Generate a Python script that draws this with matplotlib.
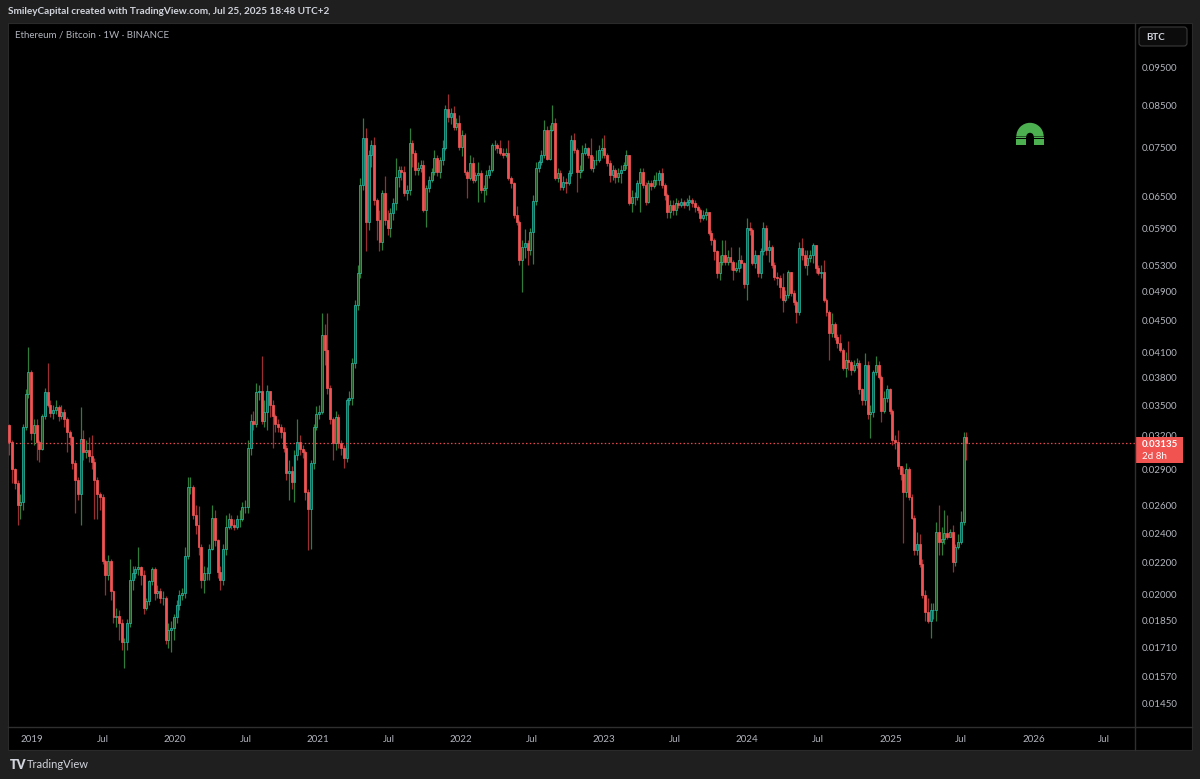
import matplotlib
matplotlib.use('Agg')
import matplotlib.pyplot as plt
from matplotlib.patches import Rectangle, FancyBboxPatch, Wedge
from matplotlib.ticker import NullLocator
import numpy as np
import pandas as pd

plt.rcParams['font.family'] = ['Lato', 'DejaVu Sans']

# weekly ETH/BTC candles, first week starts 2018-11-05
first_week = '2018-11-05'
first_open = 0.0330

closes = [
    0.0314, 0.0290, 0.0278, 0.0261, 0.0263, 0.0328, 0.0362, 0.0386, 0.0323, 0.0330,
    0.0314, 0.0308, 0.0339, 0.0364, 0.0351, 0.0342, 0.0345, 0.0348, 0.0339, 0.0343,
    0.0336, 0.0324, 0.0319, 0.0295, 0.0281, 0.0269, 0.0317, 0.0305, 0.0307, 0.0301,
    0.0296, 0.0281, 0.0269, 0.0267, 0.0221, 0.0212, 0.0221, 0.0202, 0.0187, 0.0188,
    0.0184, 0.0174, 0.0174, 0.0184, 0.0209, 0.0213, 0.0216, 0.0217, 0.0212, 0.0192,
    0.0196, 0.0208, 0.0216, 0.0201, 0.0202, 0.0198, 0.0198, 0.0175, 0.0180, 0.0181,
    0.0187, 0.0194, 0.0200, 0.0201, 0.0224, 0.0275, 0.0275, 0.0253, 0.0246, 0.0230,
    0.0209, 0.0213, 0.0213, 0.0229, 0.0251, 0.0235, 0.0214, 0.0209, 0.0229, 0.0244,
    0.0250, 0.0246, 0.0244, 0.0250, 0.0250, 0.0259, 0.0259, 0.0309, 0.0334, 0.0331,
    0.0364, 0.0365, 0.0334, 0.0343, 0.0365, 0.0351, 0.0339, 0.0331, 0.0328, 0.0324,
    0.0309, 0.0287, 0.0288, 0.0279, 0.0302, 0.0314, 0.0308, 0.0305, 0.0271, 0.0258,
    0.0295, 0.0328, 0.0341, 0.0343, 0.0431, 0.0413, 0.0369, 0.0336, 0.0313, 0.0338,
    0.0313, 0.0309, 0.0300, 0.0356, 0.0358, 0.0397, 0.0471, 0.0518, 0.0672, 0.0772,
    0.0603, 0.0734, 0.0756, 0.0643, 0.0606, 0.0568, 0.0656, 0.0606, 0.0592, 0.0618,
    0.0637, 0.0688, 0.0703, 0.0699, 0.0656, 0.0662, 0.0761, 0.0739, 0.0703, 0.0707,
    0.0713, 0.0624, 0.0666, 0.0682, 0.0699, 0.0728, 0.0699, 0.0724, 0.0750, 0.0841,
    0.0821, 0.0831, 0.0798, 0.0807, 0.0752, 0.0780, 0.0699, 0.0686, 0.0717, 0.0682,
    0.0693, 0.0697, 0.0662, 0.0666, 0.0693, 0.0703, 0.0756, 0.0756, 0.0750, 0.0739,
    0.0734, 0.0739, 0.0686, 0.0676, 0.0615, 0.0603, 0.0538, 0.0560, 0.0566, 0.0555,
    0.0585, 0.0641, 0.0707, 0.0720, 0.0734, 0.0791, 0.0726, 0.0791, 0.0807, 0.0686,
    0.0697, 0.0668, 0.0678, 0.0676, 0.0697, 0.0768, 0.0745, 0.0699, 0.0703, 0.0739,
    0.0750, 0.0734, 0.0707, 0.0724, 0.0724, 0.0745, 0.0750, 0.0734, 0.0717, 0.0693,
    0.0703, 0.0688, 0.0697, 0.0703, 0.0713, 0.0734, 0.0637, 0.0649, 0.0649, 0.0676,
    0.0699, 0.0672, 0.0639, 0.0676, 0.0670, 0.0682, 0.0682, 0.0697, 0.0672, 0.0652,
    0.0620, 0.0633, 0.0624, 0.0637, 0.0633, 0.0639, 0.0633, 0.0639, 0.0643, 0.0637,
    0.0630, 0.0624, 0.0610, 0.0615, 0.0620, 0.0583, 0.0571, 0.0552, 0.0518, 0.0535,
    0.0547, 0.0535, 0.0543, 0.0535, 0.0523, 0.0526, 0.0538, 0.0533, 0.0502, 0.0592,
    0.0588, 0.0533, 0.0547, 0.0518, 0.0552, 0.0592, 0.0555, 0.0560, 0.0530, 0.0512,
    0.0510, 0.0497, 0.0478, 0.0486, 0.0520, 0.0488, 0.0475, 0.0461, 0.0558, 0.0547,
    0.0530, 0.0542, 0.0547, 0.0563, 0.0526, 0.0518, 0.0520, 0.0478, 0.0461, 0.0434,
    0.0445, 0.0428, 0.0421, 0.0413, 0.0391, 0.0401, 0.0398, 0.0389, 0.0395, 0.0397,
    0.0367, 0.0356, 0.0395, 0.0341, 0.0343, 0.0386, 0.0395, 0.0381, 0.0344, 0.0358,
    0.0367, 0.0344, 0.0316, 0.0314, 0.0293, 0.0286, 0.0271, 0.0290, 0.0267, 0.0251,
    0.0228, 0.0232, 0.0219, 0.0200, 0.0190, 0.0185, 0.0191, 0.0191, 0.0241, 0.0234,
    0.0236, 0.0240, 0.0237, 0.0241, 0.0220, 0.0230, 0.0234, 0.0248, 0.0319, 0.03135,
]

highs = [
    0.0331, 0.0316, 0.0291, 0.0281, 0.0269, 0.0331, 0.0367, 0.0416, 0.0389, 0.0336,
    0.0336, 0.0316, 0.0341, 0.0369, 0.0397, 0.0356, 0.0351, 0.0356, 0.0351, 0.0351,
    0.0346, 0.0338, 0.0326, 0.0320, 0.0298, 0.0283, 0.0348, 0.0326, 0.0316, 0.0319,
    0.0321, 0.0300, 0.0283, 0.0271, 0.0269, 0.0222, 0.0225, 0.0222, 0.0203, 0.0192,
    0.0191, 0.0186, 0.0176, 0.0186, 0.0222, 0.0218, 0.0218, 0.0230, 0.0218, 0.0215,
    0.0198, 0.0209, 0.0217, 0.0217, 0.0206, 0.0204, 0.0202, 0.0199, 0.0184, 0.0185,
    0.0189, 0.0197, 0.0203, 0.0204, 0.0230, 0.0283, 0.0283, 0.0277, 0.0261, 0.0260,
    0.0232, 0.0218, 0.0217, 0.0232, 0.0261, 0.0257, 0.0236, 0.0218, 0.0232, 0.0253,
    0.0255, 0.0253, 0.0250, 0.0253, 0.0257, 0.0263, 0.0265, 0.0316, 0.0341, 0.0344,
    0.0374, 0.0372, 0.0405, 0.0356, 0.0372, 0.0362, 0.0356, 0.0341, 0.0336, 0.0331,
    0.0328, 0.0311, 0.0298, 0.0293, 0.0307, 0.0336, 0.0321, 0.0311, 0.0307, 0.0273,
    0.0298, 0.0331, 0.0349, 0.0351, 0.0460, 0.0445, 0.0460, 0.0372, 0.0338, 0.0344,
    0.0341, 0.0316, 0.0311, 0.0358, 0.0365, 0.0403, 0.0478, 0.0530, 0.0686, 0.0819,
    0.0795, 0.0745, 0.0768, 0.0775, 0.0647, 0.0624, 0.0662, 0.0690, 0.0624, 0.0628,
    0.0647, 0.0728, 0.0710, 0.0710, 0.0710, 0.0672, 0.0795, 0.0768, 0.0745, 0.0720,
    0.0724, 0.0724, 0.0672, 0.0690, 0.0707, 0.0745, 0.0734, 0.0730, 0.0768, 0.0851,
    0.0880, 0.0843, 0.0848, 0.0819, 0.0826, 0.0791, 0.0784, 0.0703, 0.0734, 0.0730,
    0.0699, 0.0720, 0.0703, 0.0672, 0.0703, 0.0713, 0.0761, 0.0768, 0.0761, 0.0768,
    0.0750, 0.0750, 0.0768, 0.0690, 0.0678, 0.0632, 0.0606, 0.0571, 0.0590, 0.0571,
    0.0592, 0.0652, 0.0720, 0.0724, 0.0745, 0.0814, 0.0800, 0.0802, 0.0851, 0.0819,
    0.0707, 0.0703, 0.0690, 0.0686, 0.0703, 0.0780, 0.0784, 0.0750, 0.0713, 0.0756,
    0.0760, 0.0752, 0.0772, 0.0732, 0.0745, 0.0756, 0.0772, 0.0780, 0.0739, 0.0724,
    0.0713, 0.0707, 0.0707, 0.0713, 0.0720, 0.0745, 0.0734, 0.0662, 0.0658, 0.0682,
    0.0707, 0.0707, 0.0678, 0.0682, 0.0682, 0.0693, 0.0699, 0.0703, 0.0707, 0.0676,
    0.0656, 0.0643, 0.0643, 0.0647, 0.0643, 0.0647, 0.0643, 0.0647, 0.0652, 0.0647,
    0.0643, 0.0633, 0.0628, 0.0624, 0.0628, 0.0620, 0.0588, 0.0575, 0.0555, 0.0547,
    0.0571, 0.0571, 0.0555, 0.0560, 0.0538, 0.0535, 0.0560, 0.0547, 0.0535, 0.0610,
    0.0603, 0.0592, 0.0555, 0.0547, 0.0558, 0.0603, 0.0597, 0.0571, 0.0563, 0.0535,
    0.0520, 0.0515, 0.0518, 0.0493, 0.0523, 0.0515, 0.0493, 0.0478, 0.0568, 0.0575,
    0.0555, 0.0555, 0.0555, 0.0566, 0.0552, 0.0530, 0.0530, 0.0538, 0.0481, 0.0464,
    0.0460, 0.0448, 0.0432, 0.0432, 0.0415, 0.0410, 0.0423, 0.0401, 0.0401, 0.0403,
    0.0401, 0.0369, 0.0409, 0.0399, 0.0351, 0.0389, 0.0405, 0.0399, 0.0383, 0.0365,
    0.0372, 0.0369, 0.0346, 0.0321, 0.0326, 0.0293, 0.0292, 0.0295, 0.0292, 0.0269,
    0.0253, 0.0241, 0.0239, 0.0222, 0.0203, 0.0198, 0.0195, 0.0195, 0.0248, 0.0261,
    0.0244, 0.0257, 0.0253, 0.0243, 0.0246, 0.0232, 0.0239, 0.0256, 0.0324, 0.0324,
]

lows = [
    0.0302, 0.0278, 0.0273, 0.0246, 0.0250, 0.0257, 0.0326, 0.0358, 0.0316, 0.0311,
    0.0298, 0.0296, 0.0307, 0.0336, 0.0348, 0.0338, 0.0336, 0.0341, 0.0334, 0.0336,
    0.0328, 0.0305, 0.0311, 0.0290, 0.0255, 0.0265, 0.0246, 0.0298, 0.0300, 0.0296,
    0.0290, 0.0250, 0.0250, 0.0257, 0.0219, 0.0200, 0.0209, 0.0197, 0.0184, 0.0182,
    0.0175, 0.0170, 0.0161, 0.0170, 0.0182, 0.0203, 0.0210, 0.0212, 0.0206, 0.0189,
    0.0191, 0.0194, 0.0206, 0.0197, 0.0198, 0.0195, 0.0194, 0.0173, 0.0171, 0.0169,
    0.0175, 0.0184, 0.0191, 0.0197, 0.0198, 0.0222, 0.0269, 0.0250, 0.0239, 0.0225,
    0.0204, 0.0201, 0.0209, 0.0209, 0.0228, 0.0231, 0.0210, 0.0203, 0.0206, 0.0225,
    0.0243, 0.0243, 0.0242, 0.0243, 0.0244, 0.0249, 0.0255, 0.0255, 0.0302, 0.0326,
    0.0328, 0.0356, 0.0331, 0.0328, 0.0326, 0.0338, 0.0309, 0.0324, 0.0324, 0.0318,
    0.0305, 0.0281, 0.0265, 0.0273, 0.0263, 0.0298, 0.0302, 0.0300, 0.0265, 0.0228,
    0.0229, 0.0290, 0.0326, 0.0336, 0.0341, 0.0395, 0.0362, 0.0331, 0.0298, 0.0307,
    0.0309, 0.0302, 0.0291, 0.0296, 0.0351, 0.0351, 0.0391, 0.0464, 0.0510, 0.0662,
    0.0552, 0.0588, 0.0709, 0.0633, 0.0571, 0.0552, 0.0555, 0.0597, 0.0580, 0.0576,
    0.0606, 0.0624, 0.0668, 0.0682, 0.0650, 0.0643, 0.0652, 0.0709, 0.0693, 0.0693,
    0.0699, 0.0620, 0.0593, 0.0658, 0.0678, 0.0693, 0.0690, 0.0686, 0.0713, 0.0745,
    0.0809, 0.0804, 0.0791, 0.0791, 0.0745, 0.0732, 0.0693, 0.0647, 0.0682, 0.0676,
    0.0678, 0.0639, 0.0656, 0.0639, 0.0652, 0.0686, 0.0699, 0.0745, 0.0739, 0.0734,
    0.0728, 0.0730, 0.0682, 0.0666, 0.0610, 0.0597, 0.0530, 0.0490, 0.0542, 0.0530,
    0.0547, 0.0532, 0.0633, 0.0699, 0.0713, 0.0728, 0.0724, 0.0724, 0.0789, 0.0682,
    0.0678, 0.0662, 0.0662, 0.0656, 0.0672, 0.0690, 0.0739, 0.0658, 0.0686, 0.0699,
    0.0734, 0.0728, 0.0703, 0.0699, 0.0713, 0.0720, 0.0728, 0.0728, 0.0710, 0.0678,
    0.0682, 0.0676, 0.0678, 0.0676, 0.0703, 0.0705, 0.0633, 0.0620, 0.0633, 0.0643,
    0.0620, 0.0666, 0.0633, 0.0637, 0.0662, 0.0666, 0.0672, 0.0672, 0.0666, 0.0643,
    0.0610, 0.0610, 0.0615, 0.0615, 0.0628, 0.0630, 0.0628, 0.0632, 0.0624, 0.0630,
    0.0620, 0.0619, 0.0602, 0.0606, 0.0606, 0.0580, 0.0563, 0.0538, 0.0510, 0.0507,
    0.0530, 0.0530, 0.0530, 0.0523, 0.0507, 0.0520, 0.0520, 0.0526, 0.0496, 0.0478,
    0.0580, 0.0530, 0.0526, 0.0512, 0.0510, 0.0547, 0.0547, 0.0535, 0.0526, 0.0507,
    0.0500, 0.0481, 0.0461, 0.0475, 0.0481, 0.0484, 0.0471, 0.0447, 0.0458, 0.0538,
    0.0526, 0.0515, 0.0535, 0.0533, 0.0518, 0.0515, 0.0510, 0.0475, 0.0456, 0.0401,
    0.0429, 0.0425, 0.0415, 0.0410, 0.0389, 0.0381, 0.0389, 0.0383, 0.0386, 0.0391,
    0.0362, 0.0351, 0.0351, 0.0336, 0.0318, 0.0338, 0.0383, 0.0378, 0.0333, 0.0342,
    0.0354, 0.0341, 0.0311, 0.0308, 0.0290, 0.0281, 0.0233, 0.0267, 0.0265, 0.0250,
    0.0225, 0.0225, 0.0217, 0.0198, 0.0185, 0.0184, 0.0176, 0.0186, 0.0185, 0.0225,
    0.0225, 0.0232, 0.0236, 0.0237, 0.0214, 0.0218, 0.0229, 0.0232, 0.0246, 0.0298,
]

price_ticks = [0.0145, 0.0157, 0.0171, 0.0185, 0.0200, 0.0220, 0.0240, 0.0260, 0.0290,
               0.0320, 0.0350, 0.0380, 0.0410, 0.0450, 0.0490, 0.0530, 0.0590, 0.0650,
               0.0750, 0.0850, 0.0950]
date_ticks = ['2019-01-01', '2019-07-01', '2020-01-01', '2020-07-01', '2021-01-01',
              '2021-07-01', '2022-01-01', '2022-07-01', '2023-01-01', '2023-07-01',
              '2024-01-01', '2024-07-01', '2025-01-01', '2025-07-01', '2026-01-01',
              '2026-07-01']
date_labels = ['2019', 'Jul', '2020', 'Jul', '2021', 'Jul', '2022', 'Jul', '2023', 'Jul',
               '2024', 'Jul', '2025', 'Jul', '2026', 'Jul']

W, H = 1200, 779
page = '#1f1f1f'
txt = '#d1d4dc'
axis_txt = '#b2b5be'
line_c = '#2f2f2f'
up_body, up_edge, up_wick = '#1f5c27', '#26b5a5', '#2e7d3a'
dn_body, dn_wick = '#f05454', '#9a2e30'

fig = plt.figure(figsize=(W / 100, H / 100), dpi=100, facecolor=page)

# pixel-space background layer
bg = fig.add_axes([0, 0, 1, 1], zorder=-1)
bg.set_xlim(0, W)
bg.set_ylim(H, 0)
bg.axis('off')
bg.add_patch(Rectangle((8, 23), 1184, 727, facecolor='black', edgecolor='#2a2a2a', lw=0.8))

# candle chart
ax = fig.add_axes([8 / W, 1 - 727 / H, (1135 - 8) / W, (727 - 24) / H])
ax.set_facecolor('none')

c = np.array(closes)
o = np.concatenate([[first_open], c[:-1]])
h = np.maximum(np.array(highs), np.maximum(o, c))
l = np.minimum(np.array(lows), np.minimum(o, c))
x = np.arange(len(c))
up = c >= o

ax.vlines(x[up], l[up], h[up], color=up_wick, lw=0.9, zorder=1)
ax.vlines(x[~up], l[~up], h[~up], color=dn_wick, lw=0.9, zorder=1)
ax.bar(x[up], (c - o)[up], bottom=o[up], width=0.72, color=up_body,
       edgecolor=up_edge, linewidth=0.55, zorder=2)
ax.bar(x[~up], (o - c)[~up], bottom=c[~up], width=0.72, color=dn_body,
       edgecolor=dn_body, linewidth=0.55, zorder=2)

ax.axhline(c[-1], color='#e8474c', lw=0.9, ls=(0, (1.2, 1.8)), zorder=3)

ax.set_yscale('log')
ax.set_ylim(0.01352, 0.1082)
ax.set_xlim(-0.47, 410.5)
ax.yaxis.set_minor_locator(NullLocator())
ax.set_yticks(price_ticks)
ax.set_yticklabels(['%.5f' % p for p in price_ticks])
ax.yaxis.tick_right()

start = pd.Timestamp(first_week)
tick_pos = (pd.to_datetime(date_ticks) - start).days / 7.0
ax.set_xticks(tick_pos)
ax.set_xticklabels(date_labels)
ax.tick_params(axis='y', length=0, pad=5, labelsize=7, labelcolor=axis_txt)
ax.tick_params(axis='x', length=0, pad=5.5, labelsize=7, labelcolor=axis_txt)
for s in ax.spines.values():
    s.set_visible(False)

# pixel-space overlay
ov = fig.add_axes([0, 0, 1, 1], zorder=10)
ov.set_xlim(0, W)
ov.set_ylim(H, 0)
ov.axis('off')

ov.plot([1135, 1135], [23, 750], color=line_c, lw=1)
ov.plot([8, 1192], [727, 727], color=line_c, lw=1)

fig.text(8 / W, 1 - 12 / H, 'SmileyCapital created with TradingView.com, Jul 25, 2025 18:48 UTC+2',
         color=txt, fontsize=7.2, fontweight='bold', va='center', ha='left')
ov.text(15, 35, 'Ethereum / Bitcoin \u00b7 1W \u00b7 BINANCE', color=axis_txt,
        fontsize=7, va='center', ha='left')

ov.add_patch(FancyBboxPatch((1139, 27), 48, 19, boxstyle='round,pad=0,rounding_size=3',
                            facecolor='#0c0c0c', edgecolor='#3a3a3a', lw=0.8))
ov.text(1146, 37, 'BTC', color=txt, fontsize=7, va='center', ha='left', fontweight='bold')

# last price label
ov.add_patch(Rectangle((1136, 437), 47, 26, facecolor='#f05350', edgecolor='none'))
ov.text(1142, 444.5, '%.5f' % c[-1], color='white', fontsize=7, fontweight='bold',
        va='center', ha='left')
ov.text(1142, 456, '2d 8h', color='white', fontsize=7, va='center', ha='left')

# magnet icon
green = '#4caf50'
ov.add_patch(Wedge((1030, 136.5), 13.7, 180, 360, width=10, facecolor=green, edgecolor='none'))
ov.add_patch(Rectangle((1016.3, 136.5), 10, 8.5, facecolor=green, edgecolor='none'))
ov.add_patch(Rectangle((1033.7, 136.5), 10, 8.5, facecolor=green, edgecolor='none'))
ov.add_patch(Rectangle((1015, 137.6), 30, 1.4, facecolor='black', edgecolor='none'))

# TradingView footer
ov.text(10, 765, 'TV', color=txt, fontsize=9, fontweight='heavy', va='center', ha='left')
ov.text(27, 765, 'TradingView', color=txt, fontsize=8, va='center', ha='left')

fig.savefig('out.png', dpi=100, facecolor=page)
